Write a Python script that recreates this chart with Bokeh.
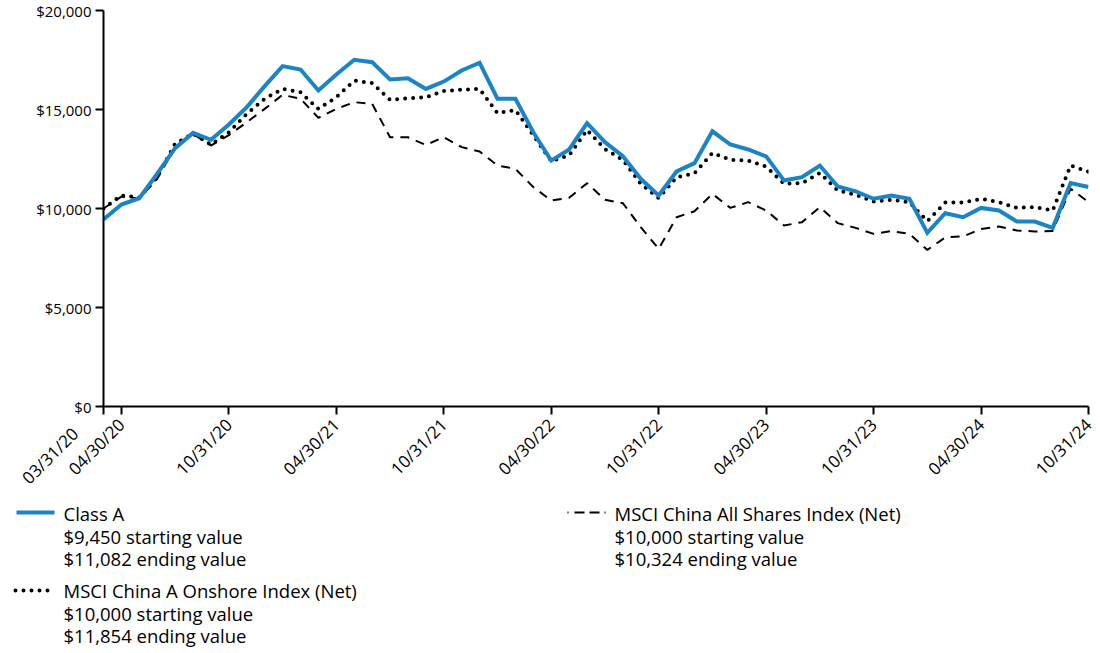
import math
from bokeh.plotting import figure
from bokeh.layouts import column
from bokeh.models import Range1d, FixedTicker, NumeralTickFormatter
from bokeh.core.properties import value
from bokeh.embed import file_html
from bokeh.resources import INLINE

# ---------------- data ----------------
dates = ["03/31/20", "04/30/20", "05/31/20", "06/30/20", "07/31/20", "08/31/20", "09/30/20",
         "10/31/20", "11/30/20", "12/31/20", "01/31/21", "02/28/21", "03/31/21", "04/30/21",
         "05/31/21", "06/30/21", "07/31/21", "08/31/21", "09/30/21", "10/31/21", "11/30/21",
         "12/31/21", "01/31/22", "02/28/22", "03/31/22", "04/30/22", "05/31/22", "06/30/22",
         "07/31/22", "08/31/22", "09/30/22", "10/31/22", "11/30/22", "12/31/22", "01/31/23",
         "02/28/23", "03/31/23", "04/30/23", "05/31/23", "06/30/23", "07/31/23", "08/31/23",
         "09/30/23", "10/31/23", "11/30/23", "12/31/23", "01/31/24", "02/29/24", "03/31/24",
         "04/30/24", "05/31/24", "06/30/24", "07/31/24", "08/31/24", "09/30/24", "10/31/24"]

class_a = [9450, 10200, 10520, 11760, 13050, 13820, 13470, 14240, 15120, 16180, 17190, 17020,
           15960, 16770, 17510, 17390, 16520, 16580, 16040, 16410, 16970, 17360, 15540, 15540,
           13850, 12420, 12980, 14310, 13350, 12640, 11500, 10660, 11870, 12290, 13900, 13230,
           12980, 12630, 11410, 11580, 12170, 11110, 10870, 10490, 10660, 10490, 8770, 9760,
           9560, 10030, 9900, 9340, 9340, 9020, 11280, 11082]

china_a_onshore = [10000, 10660, 10550, 11600, 13270, 13770, 13230, 13850, 14780, 15540, 16040,
                   15870, 15030, 15620, 16460, 16330, 15490, 15570, 15620, 15930, 16000, 16040,
                   14810, 14980, 13700, 12390, 12680, 13970, 13000, 12460, 11250, 10520, 11580,
                   11780, 12810, 12460, 12420, 12120, 11250, 11280, 11800, 10910, 10690, 10350,
                   10440, 10320, 9360, 10300, 10300, 10490, 10320, 10030, 10070, 9900, 12170, 11854]

china_all_shares = [10000, 10600, 10500, 11500, 13100, 13770, 13180, 13700, 14360, 15030, 15740,
                    15540, 14580, 15030, 15370, 15290, 13600, 13600, 13210, 13600, 13100, 12880,
                    12170, 12000, 11080, 10400, 10540, 11280, 10440, 10270, 9060, 7960, 9560,
                    9860, 10740, 10030, 10320, 9900, 9140, 9310, 10070, 9260, 9020, 8720, 8860,
                    8720, 7910, 8540, 8590, 8970, 9090, 8890, 8840, 8860, 11000, 10324]

tick_labels = ["03/31/20", "04/30/20", "10/31/20", "04/30/21", "10/31/21", "04/30/22",
               "10/31/22", "04/30/23", "10/31/23", "04/30/24", "10/31/24"]
y_ticks = [0, 5000, 10000, 15000, 20000]

legend_left = ["Class A", "$9,450 starting value", "$11,082 ending value"]
legend_left2 = ["MSCI China A Onshore Index (Net)", "$10,000 starting value", "$11,854 ending value"]
legend_right = ["MSCI China All Shares Index (Net)", "$10,000 starting value", "$10,324 ending value"]

BLUE = "#1b84c6"
FONT = "Open Sans"

x = list(range(len(dates)))
tick_pos = [dates.index(t) for t in tick_labels]

# ---------------- chart ----------------
W = 1096
FL, FR, FT, FB = 103, 1088, 10, 406   # frame edges on the canvas
BOTTOM = 128                          # room for the rotated date labels
H1 = FB + BOTTOM
p = figure(width=W, height=H1, output_backend="svg", toolbar_location=None,
           x_range=Range1d(0, len(dates) - 1), y_range=Range1d(0, 20000),
           min_border_left=FL, min_border_right=W - FR, min_border_top=FT,
           min_border_bottom=BOTTOM, frame_align=False)
p.outline_line_color = None
p.grid.visible = False
p.background_fill_color = "white"
p.border_fill_color = "white"

p.line(x, china_all_shares, line_color="black", line_width=2, line_dash="9 7")
p.line(x, china_a_onshore, line_color="black", line_width=4, line_dash="0 8", line_cap="round")
p.line(x, class_a, line_color=BLUE, line_width=4, line_join="miter")

for ax in (p.xaxis[0], p.yaxis[0]):
    ax.axis_line_width = 2
    ax.axis_line_color = "black"
    ax.major_tick_line_width = 2
    ax.major_tick_line_color = "black"
    ax.major_tick_out = 8
    ax.major_tick_in = 0
    ax.minor_tick_line_color = None
    ax.major_label_text_font = FONT
    ax.major_label_text_color = "black"

p.xaxis.ticker = FixedTicker(ticks=tick_pos)
overrides = {pos: lab for pos, lab in zip(tick_pos, tick_labels)}
# nudge the first label away from its neighbour (as in the original layout)
overrides[tick_pos[0]] = tick_labels[0] + "\u00a0" * 6 + "\n"
p.xaxis.major_label_overrides = overrides
p.xaxis.major_label_orientation = math.pi / 4
p.xaxis.major_label_text_font_size = "17px"
p.xaxis.major_label_standoff = 7

p.yaxis.ticker = FixedTicker(ticks=y_ticks)
p.yaxis.formatter = NumeralTickFormatter(format="$0,0")
p.yaxis.major_label_text_font_size = "15px"
p.yaxis.major_label_standoff = 4

# ---------------- legend ----------------
LEG_TOP = 488                         # where the legend block starts on the page
LH = 163
lg = figure(width=W, height=LH, output_backend="svg", toolbar_location=None,
            x_range=Range1d(0, W), y_range=Range1d(LH, 0),
            x_axis_location=None, y_axis_location=None,
            min_border=0, frame_align=False)
lg.margin = (LEG_TOP - H1, 0, 0, 0)
lg.outline_line_color = None
lg.grid.visible = False
lg.background_fill_color = None
lg.border_fill_color = None

lg.line([16, 54], [24, 24], line_color=BLUE, line_width=4)
lg.line([15, 53], [102, 102], line_color="black", line_width=4, line_dash="0 8", line_cap="round")
lg.line([567, 606], [24, 24], line_color="black", line_width=2, line_dash="1 6 10 5 10 5")

step = 22.5
for col_x, top, lines in [(63, 25, legend_left), (63, 102, legend_left2), (614, 25, legend_right)]:
    lg.text([col_x] * len(lines), [top + i * step for i in range(len(lines))], text=lines,
            text_font=value(FONT), text_font_size="18.5px", text_color="black",
            text_baseline="middle", text_align="left")

layout = column(p, lg, spacing=0)
open("out.html", "w").write(file_html(layout, INLINE))
